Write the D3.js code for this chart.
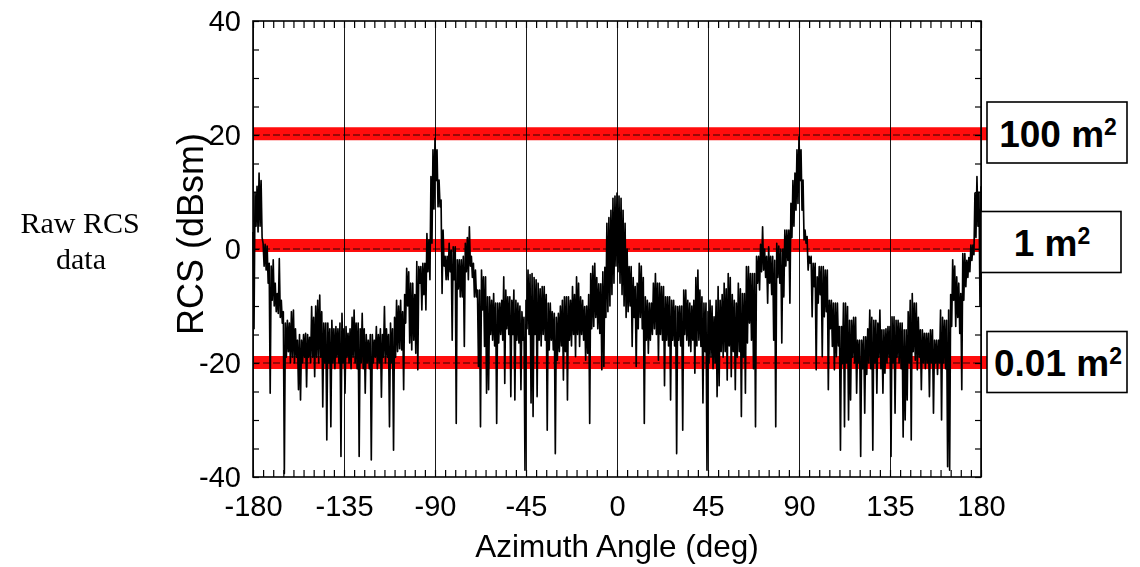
<!DOCTYPE html>
<html>
<head>
<meta charset="utf-8">
<script src="https://cdn.jsdelivr.net/npm/d3@7"></script>
<style>
  html, body { margin: 0; padding: 0; background: #fff; }
  svg { display: block; }
</style>
</head>
<body>
<svg id="chart" width="1140" height="567"></svg>
<script>
// Measured monostatic RCS vs azimuth, sampled every 0.5 degree from -180 to 180.
const angleStart = -180;
const angleStep = 0.5;
const rcsDb = [
  3,-14, 10,4, 11,3, 13.3,4, 12,2, 1,-3, 0.8,-3.7, 0.5,-6, -2.5,-25.3, -3,-9,
  -1.9,-10, -6,-11, -7.8,-11.3, -1.7,-12, -9,-13, -11,-39.4, -13,-19, -12.5,-18, -13,-20, -11,-19,
  -10.7,-20, -14,-19, -16,-24.7, -15,-26.5, -16,-20, -15,-19, -14.8,-24.2, -15,-19, -15.5,-20, -10.1,-19,
  -12,-22.4, -10,-19, -9,-20, -8.1,-19, -11,-27.7, -13,-20, -13,-33.5, -13,-20, -14,-31.2, -12.5,-20,
  -14,-21, -13.6,-19, -14,-20, -13,-36.4, -11.3,-20, -14,-25.3, -13.6,-19, -14.8,-20, -14,-21, -12,-19,
  -10.7,-20, -13,-21, -13,-36.4, -14,-20, -11.3,-21, -14,-25.3, -15,-20, -16,-21, -15,-37, -15,-20,
  -16,-19, -13.6,-21, -15,-20, -14,-26, -15,-19, -10.1,-20, -14,-19, -15,-31.2, -13,-20, -14,-35.3,
  -12,-19, -9,-18, -10,-17.5, -9,-17.7, -11,-24.7, -8,-13, -3.4,-10, -4,-16.5, -6,-17.7, -6,-16,
  -8,-18.3, -2.2,-21.2, -3.1,-6, -3.1,-10.7, -2.5,-8, -2.5,-10.7, 2.7,-4, 1.6,-5.4, 12.7,1, 17.4,7,
  19.4,12, 17.4,7.4, 12.1,7.4, 8.6,-7.8, 3.3,-3, -1.3,-5.4, -1.3,-5.4, 1,-4, -0.2,-16, 0.4,-5.4,
  0.4,-30.6, -1.9,-7, -1.9,-8.4, -1.9,-8.4, -1.3,-17.1, 1,-4, 2,-5.4, 3.9,-3, -1.3,-5, -2.5,-8.4,
  -3.7,-8.4, -7.2,-20.6, -7.2,-31.2, -3.7,-10.7, -4.9,-17.1, -4.9,-25.3, -8.4,-24.7, -8.4,-15, -9,-16, -7.8,-17,
  -9.5,-30.6, -9.5,-16.5, -9.5,-15, -9,-16, -4.9,-23.6, -7.2,-14, -8.4,-15, -8.4,-25.9, -9,-15, -7.2,-26.5,
  -9,-16, -9.5,-16.5, -10,-24.7, -11,-16, -12,-38.8, -9,-14, -3.7,-15, -4.5,-27, -4.3,-29.4, -5,-15,
  -5.4,-25.9, -6,-16, -7,-17, -6.6,-15, -6.6,-16, -8,-31.8, -9.5,-17.7, -9.5,-16, -11,-17.7, -11.3,-35.9,
  -12,-19.5, -11.3,-18, -10,-17, -9,-23, -8.4,-18, -8.4,-26.5, -8.4,-16, -9,-17, -6.6,-15, -8,-18.9,
  -4.9,-15, -6,-17.1, -8.4,-15, -9,-16, -10.1,-19.5, -10,-18.3, -8,-30.6, -4.3,-14, -3,-13.6, -2.5,-12,
  -5,-14, -6.1,-14.8, -6.1,-21.2, -4,-20.6, -3.2,-12, 4.5,-11, 5.5,-10, 6.8,-8, 8.9,-6, 9.3,-3,
  9.8,-4, 9.3,-6, 8.9,-8, 6.8,-10, 4.5,-12, 0,-11, -3.1,-10, -3.1,-17.1, -5,-12, -6.6,-20.6,
  -6,-14, -2.5,-12, -3,-14, -5,-30.6, -8.4,-16, -9,-18.3, -9.5,-16, -9.5,-15, -6,-14, -4.3,-15,
  -6,-19.5, -6,-15, -6.6,-16, -6.6,-24, -8.4,-16, -8.4,-17, -8.4,-26.5, -9,-16, -9,-17, -10,-35.9,
  -10.1,-16, -10,-17, -10,-31.8, -7.2,-15, -7.2,-16, -9,-17, -9.5,-18, -10,-16, -9,-21.8, -5,-17,
  -3.7,-16, -7.2,-17.1, -8.4,-27, -9.5,-18, -9.5,-38.8, -11,-20, -9,-19, -10,-21, -11.9,-20, -9,-25.9,
  -6.6,-24, -9,-18, -8,-19, -6,-18, -7,-23, -4.3,-17, -5,-22.4, -8,-18, -9,-24.7, -9.5,-19,
  -6,-18, -7,-29.4, -7.8,-19, -7.8,-25.3, -3.1,-16.5, -3.1,-13, -4.3,-16, -4.3,-21, -4.3,-31.2, -1.3,-6,
  -1.3,-7.2, 0.8,-4, 3.9,-3.7, 0,-5, -1.3,-9.5, 0.4,-6, -1.3,-8, -1.3,-16, -2,-31.2, 1,-5,
  0.5,-6, 0,-16.5, 0,-8.4, 3.3,-3, 3.3,-2, 3.3,-9.5, 8,2, 12,4, 13.3,6.8, 17.4,8,
  19.7,12, 17.4,6.8, 12.1,1.6, 3.3,1, 2.2,-3.7, -1.3,-2.5, -1.3,-11.9, -2.5,-6.6, -2.5,-21.2, -4.9,-9.5,
  -3.1,-8, -3.1,-18.9, -3.1,-11.9, -3.7,-11, -3.7,-24.7, -9,-14, -9,-17.1, -9.5,-21.2, -9.5,-18.9, -9.5,-17,
  -13.6,-35.3, -13.6,-20.1, -9.5,-31.2, -9.5,-20, -10.1,-30, -12.5,-26.5, -12.5,-19, -12,-20, -12,-25.3, -16,-20,
  -16,-36.4, -16,-21, -15.4,-28.8, -15.4,-22, -14,-20, -10.7,-21, -12,-35.3, -12.5,-20, -12.5,-25.3, -13,-19,
  -10.7,-21, -14.2,-25.3, -14.2,-21.8, -14,-20, -13.6,-19, -13.6,-36.4, -11.9,-20, -11.9,-28.8, -12.5,-19, -12.5,-20,
  -13,-21, -13,-33, -14.2,-30, -14.2,-26.5, -11,-20, -9,-33.5, -7.8,-18, -9.5,-19.5, -9.5,-21.2, -12,-19,
  -14.2,-24.7, -14.2,-20, -14.8,-21, -14.8,-20, -14.8,-25.9, -14.2,-20, -14.2,-28.8, -16,-20, -16,-22, -16,-20,
  -10.7,-30, -12,-20, -12.5,-21, -12.5,-38.2, -10.7,-38.8, -8,-13.6, -1.9,-9, -3,-13.6, -4.9,-12, -6,-14.8,
  -7.8,-24.7, -0.8,-9, -0.8,-6.6, -2,-5, -1.5,-4, 0.7,-2, 0.7,-1, 9.8,2, 12.7,4, 10,-10,
  11
];

const xTickValues = [-180, -135, -90, -45, 0, 45, 90, 135, 180];
const yTickValues = [-40, -20, 0, 20, 40];
const refLevelsDb = [20, 0, -20];
const refLabels = ["100 m", "1 m", "0.01 m"];

// layout
const plot = { left: 253, right: 981, top: 21, bottom: 477 };
const boxLeft = [987, 981, 987];
const boxShift = [-2.5, -7, -1];
const boxW = 140, boxH = 61;

const svg = d3.select("#chart");
svg.append("rect").attr("width", 1140).attr("height", 567).attr("fill", "#fff");

const x = d3.scaleLinear().domain([-180, 180]).range([plot.left, plot.right]);
const y = d3.scaleLinear().domain([-40, 40]).range([plot.bottom, plot.top]);
const plotH = plot.bottom - plot.top;
const plainNumber = d => String(d);

// vertical grid at every 45 degrees
svg.append("g")
  .attr("transform", `translate(0,${plot.bottom})`)
  .call(d3.axisBottom(x).tickValues(xTickValues).tickSize(-plotH).tickFormat(""))
  .call(g => g.select(".domain").remove())
  .selectAll("line").attr("stroke", "#1a1a1a").attr("stroke-width", 1);

// minor ticks, inward on all four sides
const xMinor = d3.range(-180, 181, 5);
const yMinor = d3.range(-40, 41, 5);
const tickStyle = g => {
  g.select(".domain").remove();
  g.selectAll("line").attr("stroke", "#000").attr("stroke-width", 1.2);
};
svg.append("g").attr("transform", `translate(0,${plot.bottom})`)
  .call(d3.axisBottom(x).tickValues(xMinor).tickSize(-7).tickFormat("")).call(tickStyle);
svg.append("g").attr("transform", `translate(0,${plot.top})`)
  .call(d3.axisTop(x).tickValues(xMinor).tickSize(-7).tickFormat("")).call(tickStyle);
svg.append("g").attr("transform", `translate(${plot.left},0)`)
  .call(d3.axisLeft(y).tickValues(yMinor).tickSize(-6).tickFormat("")).call(tickStyle);
svg.append("g").attr("transform", `translate(${plot.right},0)`)
  .call(d3.axisRight(y).tickValues(yMinor).tickSize(-6).tickFormat("")).call(tickStyle);

// dashed reference grid lines
svg.append("g").selectAll("line").data(refLevelsDb).join("line")
  .attr("x1", plot.left).attr("x2", plot.right)
  .attr("y1", d => y(d)).attr("y2", d => y(d))
  .attr("stroke", "#000").attr("stroke-width", 1)
  .attr("stroke-dasharray", "7,3").attr("opacity", 0.8);

// RCS trace
const line = d3.line()
  .x((d, i) => x(angleStart + i * angleStep))
  .y(d => y(d));
svg.append("path")
  .datum(rcsDb)
  .attr("d", line)
  .attr("fill", "none")
  .attr("stroke", "#000")
  .attr("stroke-width", 1.65)
  .attr("stroke-linejoin", "round");

// plot frame
svg.append("rect")
  .attr("x", plot.left).attr("y", plot.top)
  .attr("width", plot.right - plot.left).attr("height", plotH)
  .attr("fill", "none").attr("stroke", "#000").attr("stroke-width", 1.6);

// highlighted reference levels
svg.append("g").selectAll("rect").data(refLevelsDb).join("rect")
  .attr("x", plot.left)
  .attr("width", (d, i) => boxLeft[i] - plot.left)
  .attr("y", (d, i) => y(d) + boxShift[i] * 0.5 - 6.5)
  .attr("height", 13)
  .attr("fill", "#ff0d0d")
  .style("mix-blend-mode", "multiply");

// axis labels
const fontSans = "'Liberation Sans', Arial, Helvetica, sans-serif";
const xAxis = svg.append("g").attr("transform", `translate(0,${plot.bottom})`)
  .call(d3.axisBottom(x).tickValues(xTickValues).tickSize(0).tickPadding(18).tickFormat(plainNumber));
xAxis.select(".domain").remove();
xAxis.selectAll("text").attr("font-family", fontSans).attr("font-size", 29).attr("fill", "#000");

const yAxis = svg.append("g").attr("transform", `translate(${plot.left},0)`)
  .call(d3.axisLeft(y).tickValues(yTickValues).tickSize(0).tickPadding(12).tickFormat(plainNumber));
yAxis.select(".domain").remove();
yAxis.selectAll("text").attr("font-family", fontSans).attr("font-size", 29).attr("fill", "#000");

svg.append("text")
  .attr("x", (plot.left + plot.right) / 2).attr("y", 557)
  .attr("text-anchor", "middle")
  .attr("font-family", fontSans).attr("font-size", 31.5)
  .text("Azimuth Angle (deg)");

svg.append("text")
  .attr("transform", `translate(203,234) rotate(-90)`)
  .attr("text-anchor", "middle")
  .attr("font-family", fontSans).attr("font-size", 36)
  .text("RCS (dBsm)");

// side note
const note = svg.append("text")
  .attr("text-anchor", "middle")
  .attr("font-family", "'Liberation Serif', 'Times New Roman', serif")
  .attr("font-size", 30);
note.append("tspan").attr("x", 80).attr("y", 233).text("Raw RCS");
note.append("tspan").attr("x", 81).attr("y", 269).text("data");

// labelled boxes for the reference levels
const boxes = svg.append("g").selectAll("g").data(refLevelsDb).join("g")
  .attr("transform", (d, i) => `translate(${boxLeft[i]},${y(d) + boxShift[i] - boxH / 2})`);
boxes.append("rect")
  .attr("width", boxW).attr("height", boxH)
  .attr("fill", "#fff").attr("stroke", "#000").attr("stroke-width", 1.6);
const boxText = boxes.append("text")
  .attr("x", boxW / 2 + 1).attr("y", boxH / 2 + 14)
  .attr("text-anchor", "middle")
  .attr("font-family", fontSans).attr("font-weight", "bold").attr("font-size", 37);
boxText.append("tspan").text((d, i) => refLabels[i]);
boxText.append("tspan").attr("dy", -12).attr("font-size", 23).text("2");
</script>
</body>
</html>
